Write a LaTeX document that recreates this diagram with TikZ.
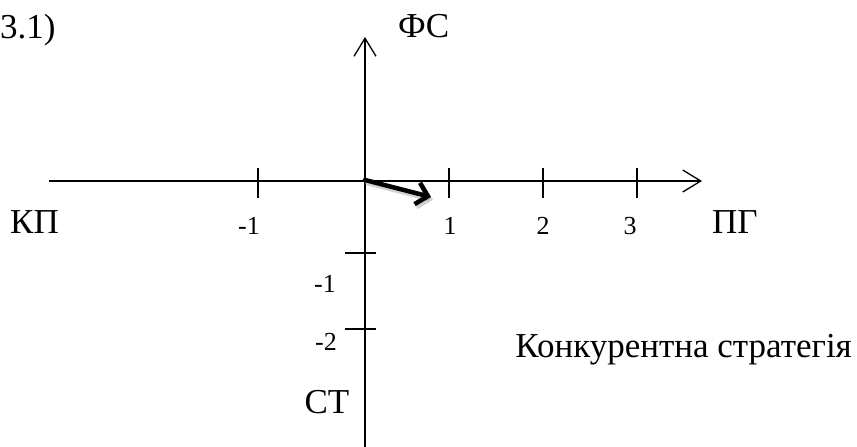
\documentclass[tikz,border=0pt]{standalone}
\usepackage{fontspec}
\setmainfont{Liberation Serif}
\usetikzlibrary{arrows.meta}
\begin{document}
\begin{tikzpicture}[x=1pt,y=-1pt,
  axis/.style={line width=1.3pt, -{Straight Barb[length=18pt,width=22pt,line width=1.3pt]}},
  tick/.style={line width=1.3pt},
  big/.style={inner sep=0pt, font=\fontsize{35}{40}\selectfont},
  num/.style={inner sep=0pt, font=\fontsize{26}{30}\selectfont},
  vec/.style={line width=4.5pt, -{Straight Barb[length=11pt,width=22pt,line width=4.5pt]}, line cap=round}]
\useasboundingbox (0,0) rectangle (857,447);
% axes
\coordinate (xs) at (49,181);
\coordinate (xe) at (702,181);
\coordinate (ys) at (365,447);
\coordinate (ye) at (365,37);
\coordinate (o) at (365,180);
\coordinate (v) at (431,197);
\draw[axis] (xs) -- (xe);
\draw[axis] (ys) -- (ye);
% x ticks
\foreach \n/\x in {m1/258, p1/449, p2/543, p3/637} {
  \coordinate (t\n a) at (\x,168);
  \coordinate (t\n b) at (\x,198);
  \draw[tick] (t\n a) -- (t\n b);
}
% y ticks
\foreach \n/\y in {m1/253, m2/329} {
  \coordinate (s\n a) at (345,\y);
  \coordinate (s\n b) at (376,\y);
  \draw[tick] (s\n a) -- (s\n b);
}
% vector with shadow
\begin{scope}[transform canvas={shift={(2pt,-3pt)}}]
\draw[vec, draw=black!35, opacity=0.5] (o) -- (v);
\end{scope}
\draw[vec] (o) -- (v);
% labels
\node[big, anchor=base west] (lab31) at (0,38) {3.1)};
\node[big, anchor=base west] (labFS) at (398,37) {ФС};
\node[big, anchor=base east] (labKP) at (59,233) {КП};
\node[big, anchor=base west] (labPG) at (712,233) {ПГ};
\node[num, anchor=base] (nm1) at (249,234) {-1};
\node[num, anchor=base] (np1) at (450,234) {1};
\node[num, anchor=base] (np2) at (543,234) {2};
\node[num, anchor=base] (np3) at (630,234) {3};
\node[num, anchor=base east] (vm1) at (336,292) {-1};
\node[num, anchor=base east] (vm2) at (337,350) {-2};
\node[big, anchor=base] (labST) at (327,413) {СТ};
\node[big, anchor=base east] (labKS) at (852,357) {Конкурентна стратегія};
\end{tikzpicture}
\end{document}
